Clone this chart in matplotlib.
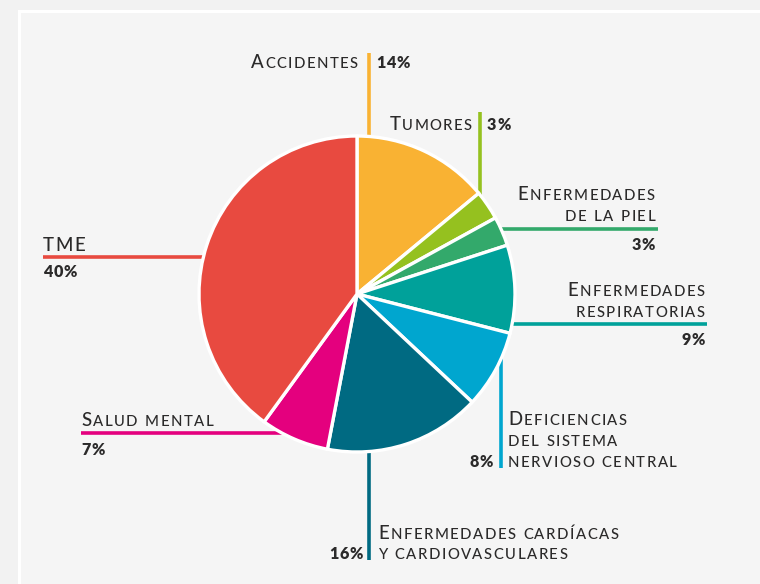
import matplotlib
matplotlib.use("Agg")
import matplotlib.pyplot as plt
from matplotlib.patches import Rectangle
from matplotlib.font_manager import FontProperties

# data
labels = ["Accidentes", "Tumores", "Enfermedades de la piel", "Enfermedades respiratorias",
          "Deficiencias del sistema nervioso central", "Enfermedades cardíacas y cardiovasculares",
          "Salud mental", "TME"]
values = [14, 3, 3, 9, 8, 16, 7, 40]
colors = ["#F9B233", "#95C11F", "#33A96B", "#00A19A", "#00A6CF", "#006A82", "#E4007E", "#E84A40"]

W, H = 760, 584
FONT = "Lato"
TXT = "#2B2A2A"
BIG, SMALL, PCT = 13.4, 10.7, 11.6
TRACK = 1.5

fig = plt.figure(figsize=(W / 100, H / 100), dpi=100)
fig.patch.set_facecolor("#F2F2F2")
ax = fig.add_axes([0, 0, 1, 1])
renderer = fig.canvas.get_renderer()


def Y(y):
    # pixel rows from the top -> data y
    return H - y


# panel
ax.add_patch(Rectangle((19, -10), W, Y(11) + 10, facecolor="#F5F5F5",
                       edgecolor="white", linewidth=2.2, zorder=0))

# pie
cx, cy, r = 357, Y(294), 158
ax.pie(values, colors=colors, startangle=90, counterclock=False, center=(cx, cy), radius=r,
       wedgeprops=dict(edgecolor="white", linewidth=2.4, zorder=3))
ax.set_xlim(0, W)
ax.set_ylim(0, H)
ax.set_aspect("auto")
ax.axis("off")


def ink_width(ch, size, weight):
    prop = FontProperties(family=FONT, size=size, weight=weight)
    return renderer.get_text_width_height_descent(ch, prop, ismath=False)[0]


def caps_text(x, y, s, align="left", big=BIG, small=SMALL, weight=500, track=TRACK):
    # fake small caps with a bit of letter spacing
    items = []
    for ch in s:
        size = big if ch.isupper() else small
        w = 4.5 if ch == " " else ink_width(ch.upper(), size, weight)
        items.append((ch.upper(), size, w))
    total = sum(it[2] for it in items) + track * (len(items) - 1)
    x0 = x - total if align == "right" else x
    for ch, size, w in items:
        if ch != " ":
            ax.text(x0, Y(y), ch, fontsize=size, family=FONT, weight=weight, color=TXT,
                    ha="left", va="baseline", zorder=5)
        x0 += w + track


def pct(x, y, v, align="left"):
    caps_text(x, y, f"{v}%", align=align, big=PCT, small=PCT, weight="heavy", track=1.0)


def vline(x, y0, col):
    ax.plot([x, x], [Y(y0), cy], color=col, lw=2.6, solid_capstyle="butt", zorder=1)


def hline(x0, y, col):
    ax.plot([x0, cx], [Y(y), Y(y)], color=col, lw=2.6, solid_capstyle="butt", zorder=1)


# Accidentes
caps_text(358, 68, "Accidentes", align="right")
pct(376, 68, values[0])
vline(369, 53, colors[0])

# Tumores
caps_text(472, 130, "Tumores", align="right")
pct(487, 130, values[1])
vline(480, 112, colors[1])

# Enfermedades de la piel
caps_text(655, 200, "Enfermedades", align="right")
caps_text(655, 221, "de la piel", align="right")
hline(658, 229, colors[2])
pct(655, 250, values[2], align="right")

# Enfermedades respiratorias
caps_text(705, 296, "Enfermedades", align="right")
caps_text(705, 317, "respiratorias", align="right")
hline(707, 323.5, colors[3])
pct(705, 345, values[3], align="right")

# Deficiencias del SNC
caps_text(508, 425, "Deficiencias")
caps_text(508, 446, "del sistema")
caps_text(508, 467, "nervioso central")
vline(500.5, 468, colors[4])
pct(493, 467, values[4], align="right")

# Enfermedades cardíacas
caps_text(378, 539, "Enfermedades cardíacas")
caps_text(378, 559, "y cardiovasculares")
vline(369, 560, colors[5])
pct(363, 559, values[5], align="right")

# Salud mental
caps_text(81, 426, "Salud mental")
hline(81, 432.5, colors[6])
pct(81, 455, values[6])

# TME
caps_text(43, 251, "TME")
hline(43, 256.5, colors[7])
pct(43, 277, values[7])

fig.savefig("out.png", dpi=100, facecolor=fig.get_facecolor())
